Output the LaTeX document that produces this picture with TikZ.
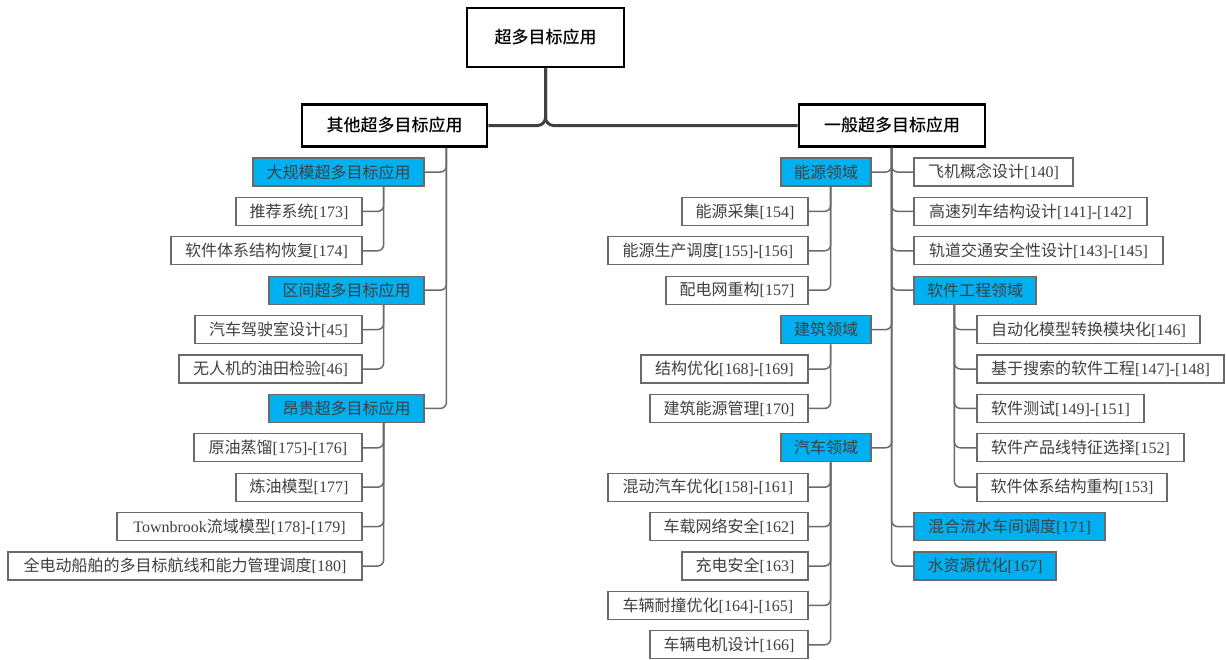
\documentclass[tikz,border=0pt]{standalone}
\usepackage{fontspec}
\setmainfont{Liberation Serif}
\newfontfamily\cjk{Noto Sans CJK SC}
\newfontfamily\cjkbold{Noto Sans CJK SC Medium}
\newcommand\zh[1]{{\cjk #1}}
\newcommand\zhb[1]{{\cjkbold #1}}
\definecolor{cblue}{HTML}{00B0F0}
\definecolor{bord}{HTML}{6A6A6A}
\definecolor{txt}{HTML}{404040}
\definecolor{dgray}{HTML}{404040}
\tikzset{
  base/.style={rectangle, inner xsep=0pt, inner ysep=0pt, text=txt, font=\fontsize{16}{19}\selectfont},
  leaf/.style={base, draw=bord, line width=1.3pt, fill=white, minimum height=28pt},
  cat/.style={base, draw=bord, line width=1.3pt, fill=cblue, minimum height=28pt},
  top/.style={base, draw=black, line width=2.8pt, fill=white, text=black, minimum height=42pt, font=\fontsize{17}{20}\selectfont},
  rootbox/.style={base, draw=black, line width=2.8pt, fill=white, text=black, minimum height=59pt, font=\fontsize{17}{20}\selectfont},
  conn/.style={draw=bord, line width=1.5pt, rounded corners=6pt},
  rootconn/.style={draw=dgray, line width=3pt, rounded corners=8pt}
}
\newcommand\bx[6]{\node[#2, minimum width={#4-#3}] (#1) at ({(#3+#4)/2},#5) {#6};}
\begin{document}
\begin{tikzpicture}[x=1pt,y=-1pt]
\useasboundingbox (0,0) rectangle (1226,659);
% root and level 1
\bx{root}{rootbox}{467}{624}{37.5}{\zhb{超多目标应用}}
\bx{other}{top}{302}{487}{125.5}{\zhb{其他超多目标应用}}
\bx{general}{top}{799}{985}{125.5}{\zhb{一般超多目标应用}}
% left group
\bx{large}{cat}{253}{424}{172}{\zh{大规模超多目标应用}}
\bx{rec}{leaf}{236}{362}{211.4}{\zh{推荐系统}[173]}
\bx{swarch}{leaf}{171}{362}{250.8}{\zh{软件体系结构恢复}[174]}
\bx{interval}{cat}{269}{424}{290.2}{\zh{区间超多目标应用}}
\bx{cabin}{leaf}{195}{362}{329.6}{\zh{汽车驾驶室设计}[45]}
\bx{uav}{leaf}{179}{362}{369}{\zh{无人机的油田检验}[46]}
\bx{expensive}{cat}{269}{424}{408.4}{\zh{昂贵超多目标应用}}
\bx{crude}{leaf}{194}{362}{447.8}{\zh{原油蒸馏}[175]-[176]}
\bx{refine}{leaf}{236}{362}{487.2}{\zh{炼油模型}[177]}
\bx{town}{leaf}{117}{362}{526.6}{Townbrook\zh{流域模型}[178]-[179]}
\bx{ship}{leaf}{8}{362}{566}{\zh{全电动船舶的多目标航线和能力管理调度}[180]}
% right group, left side
\bx{energy}{cat}{781}{871}{172}{\zh{能源领域}}
\bx{harvest}{leaf}{682}{808}{211.4}{\zh{能源采集}[154]}
\bx{prod}{leaf}{608}{808}{250.8}{\zh{能源生产调度}[155]-[156]}
\bx{grid}{leaf}{666}{808}{290.2}{\zh{配电网重构}[157]}
\bx{building}{cat}{781}{871}{329.6}{\zh{建筑领域}}
\bx{struct}{leaf}{641}{808}{369}{\zh{结构优化}[168]-[169]}
\bx{bem}{leaf}{650}{808}{408.4}{\zh{建筑能源管理}[170]}
\bx{auto}{cat}{781}{871}{447.8}{\zh{汽车领域}}
\bx{hybrid}{leaf}{608}{808}{487.2}{\zh{混动汽车优化}[158]-[161]}
\bx{net}{leaf}{650}{808}{526.6}{\zh{车载网络安全}[162]}
\bx{charge}{leaf}{682}{808}{566}{\zh{充电安全}[163]}
\bx{crash}{leaf}{608}{808}{605.4}{\zh{车辆耐撞优化}[164]-[165]}
\bx{motor}{leaf}{650}{808}{644.8}{\zh{车辆电机设计}[166]}
% right group, right side
\bx{plane}{leaf}{914}{1073}{172}{\zh{飞机概念设计}[140]}
\bx{train}{leaf}{914}{1147}{211.4}{\zh{高速列车结构设计}[141]-[142]}
\bx{rail}{leaf}{914}{1163}{250.8}{\zh{轨道交通安全性设计}[143]-[145]}
\bx{sweng}{cat}{914}{1036}{290.2}{\zh{软件工程领域}}
\bx{amt}{leaf}{977}{1200}{329.6}{\zh{自动化模型转换模块化}[146]}
\bx{sbse}{leaf}{977}{1224}{369}{\zh{基于搜索的软件工程}[147]-[148]}
\bx{test}{leaf}{977}{1144}{408.4}{\zh{软件测试}[149]-[151]}
\bx{spl}{leaf}{977}{1184}{447.8}{\zh{软件产品线特征选择}[152]}
\bx{swref}{leaf}{977}{1167}{487.2}{\zh{软件体系结构重构}[153]}
\bx{flow}{cat}{914}{1105}{526.6}{\zh{混合流水车间调度}[171]}
\bx{water}{cat}{914}{1056}{566}{\zh{水资源优化}[167]}
% connectors
\draw[rootconn] (root.south) |- (other.east);
\draw[rootconn] (root.south) |- (general.west);
\foreach \c in {large,interval,expensive}
  \draw[conn] ([xshift=-42pt]other.south east) |- (\c.east);
\foreach \c in {rec,swarch}
  \draw[conn] ([xshift=-41pt]large.south east) |- (\c.east);
\foreach \c in {cabin,uav}
  \draw[conn] ([xshift=-41pt]interval.south east) |- (\c.east);
\foreach \c in {crude,refine,town,ship}
  \draw[conn] ([xshift=-41pt]expensive.south east) |- (\c.east);
\foreach \c in {energy,building,auto}
  \draw[conn] ([xshift=94pt]general.south west) |- (\c.east);
\foreach \c in {plane,train,rail,sweng,flow,water}
  \draw[conn] ([xshift=94pt]general.south west) |- (\c.west);
\foreach \c in {harvest,prod,grid}
  \draw[conn] ([xshift=-41pt]energy.south east) |- (\c.east);
\foreach \c in {struct,bem}
  \draw[conn] ([xshift=-41pt]building.south east) |- (\c.east);
\foreach \c in {hybrid,net,charge,crash,motor}
  \draw[conn] ([xshift=-41pt]auto.south east) |- (\c.east);
\foreach \c in {amt,sbse,test,spl,swref}
  \draw[conn] ([xshift=41pt]sweng.south west) |- (\c.west);
\end{tikzpicture}
\end{document}
